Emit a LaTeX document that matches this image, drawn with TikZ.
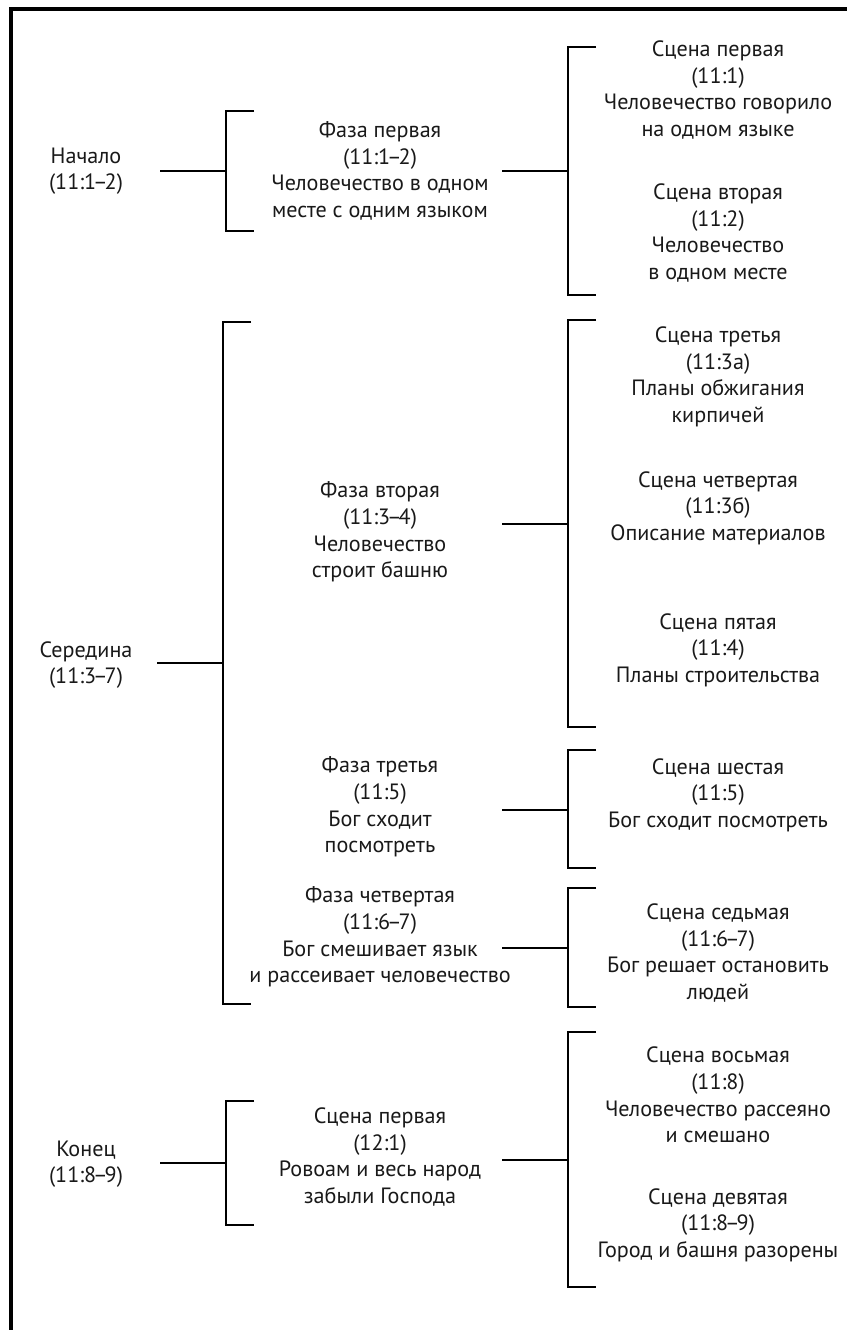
\documentclass[tikz,border=0pt]{standalone}
\usepackage{fontspec}
\setmainfont{PT Sans}
\usetikzlibrary{positioning,calc}
\newcommand\rng{\kern-0.14em–\kern-0.14em}
\tikzstyle{part} = [align=center, inner sep=0pt, text=black!90,
    font=\fontsize{16.6}{19.9}\selectfont]
\tikzstyle{phase} = [part]
\tikzstyle{scene} = [part]
\tikzstyle{brace} = [draw, line width=1.5pt]
\tikzstyle{frame} = [draw, line width=2.6pt]

\begin{document}
\begin{tikzpicture}[x=0.75pt, y=-0.75pt]
                \useasboundingbox (0,0) rectangle (847,1330);
                \draw [frame] (11,1330) -- (11,9) -- (847,9);

                % Nodes
                \node [part] (nachalo) at (86,171) {Начало\\(11:1\rng2)};
                \node [part] (seredina) at (86,665) {Середина\\(11:3\rng7)};
                \node [part] (konec) at (86,1164) {Конец\\(11:8\rng9)};

                \node [phase] (faza1) at (380,171) {Фаза первая\\(11:1\rng2)\\Человечество в одном\\месте с одним языком};
                \node [phase] (faza2) at (380,532) {Фаза вторая\\(11:3\rng4)\\Человечество\\строит башню};
                \node [phase] (faza3) at (380,807) {Фаза третья\\(11:5)\\Бог сходит\\посмотреть};
                \node [phase] (faza4) at (380,937) {Фаза четвертая\\(11:6\rng7)\\Бог смешивает язык\\и рассеивает человечество};
                \node [phase] (faza5) at (380,1157) {Сцена первая\\(12:1)\\Ровоам и весь народ\\забыли Господа};

                \node [scene] (scene1) at (718,90) {Сцена первая\\(11:1)\\Человечество говорило\\на одном языке};
                \node [scene] (scene2) at (718,233) {Сцена вторая\\(11:2)\\Человечество\\в одном месте};
                \node [scene] (scene3) at (718,377) {Сцена третья\\(11:3а)\\Планы обжигания\\кирпичей};
                \node [scene] (scene4) at (718,508) {Сцена четвертая\\(11:3б)\\Описание материалов};
                \node [scene] (scene5) at (718,650) {Сцена пятая\\(11:4)\\Планы строительства};
                \node [scene] (scene6) at (718,795) {Сцена шестая\\(11:5)\\Бог сходит посмотреть};
                \node [scene] (scene7) at (718,953) {Сцена седьмая\\(11:6\rng7)\\Бог решает остановить\\людей};
                \node [scene] (scene8) at (718,1095) {Сцена восьмая\\(11:8)\\Человечество рассеяно\\и смешано};
                \node [scene] (scene9) at (718,1225) {Сцена девятая\\(11:8\rng9)\\Город и башня разорены};

                % Bracket spines
                \coordinate (bA) at (226,171);
                \coordinate (bB) at (568,171);
                \coordinate (bC) at (223,663);
                \coordinate (bD) at (568,524);
                \coordinate (bE) at (568,810);
                \coordinate (bF) at (568,948);
                \coordinate (bG) at (226,1163);
                \coordinate (bH) at (568,1160);

                % Connections
                \draw [brace] (bA) -- ++(-66,0);
                \draw [brace] ([shift={(28,-60)}]bA) -- ++(-28,0) -- ++(0,120) -- ++(28,0);
                \draw [brace] (bB) -- ++(-66,0);
                \draw [brace] ([shift={(28,-124)}]bB) -- ++(-28,0) -- ++(0,248) -- ++(28,0);

                \draw [brace] (bC) -- ++(-66,0);
                \draw [brace] ([shift={(28,-341)}]bC) -- ++(-28,0) -- ++(0,682) -- ++(28,0);
                \draw [brace] (bD) -- ++(-66,0);
                \draw [brace] ([shift={(28,-204)}]bD) -- ++(-28,0) -- ++(0,407) -- ++(28,0);
                \draw [brace] (bE) -- ++(-66,0);
                \draw [brace] ([shift={(28,-60)}]bE) -- ++(-28,0) -- ++(0,118) -- ++(28,0);
                \draw [brace] (bF) -- ++(-66,0);
                \draw [brace] ([shift={(28,-60)}]bF) -- ++(-28,0) -- ++(0,119) -- ++(28,0);

                \draw [brace] (bG) -- ++(-66,0);
                \draw [brace] ([shift={(28,-62)}]bG) -- ++(-28,0) -- ++(0,124) -- ++(28,0);
                \draw [brace] (bH) -- ++(-66,0);
                \draw [brace] ([shift={(28,-128)}]bH) -- ++(-28,0) -- ++(0,255) -- ++(28,0);

            \end{tikzpicture}
\end{document}
